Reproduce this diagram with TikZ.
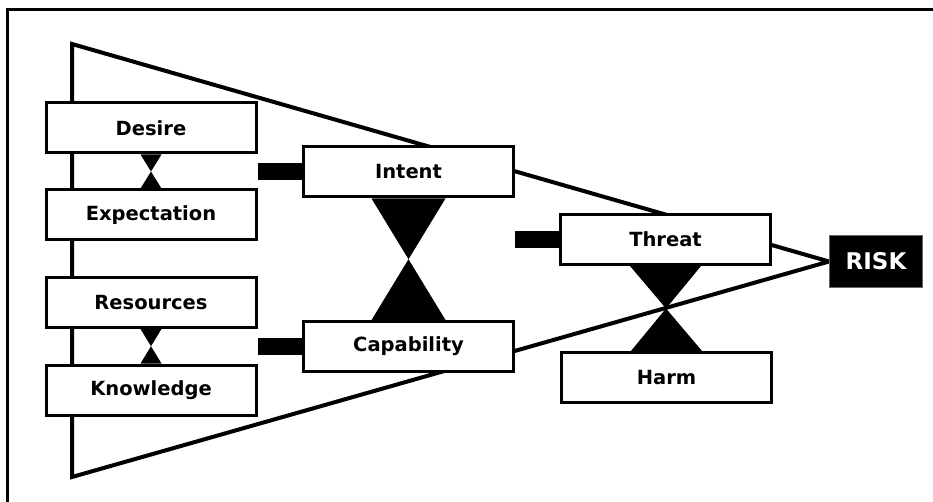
\documentclass[tikz,border=0pt]{standalone}
\usepackage{fontspec}
\setmainfont{DejaVu Sans}
\usetikzlibrary{backgrounds,calc}
\tikzset{
  box/.style={draw=black, fill=white, line width=3pt, minimum width=210pt, minimum height=50pt, inner sep=0pt, font=\fontsize{19.5}{21}\selectfont\bfseries},
  riskbox/.style={draw=black!60, fill=black, line width=1pt, minimum width=93pt, minimum height=52pt, inner sep=0pt, text=white, font=\fontsize{23}{25}\selectfont\bfseries},
  tri/.style={draw=black, line width=4pt, line join=miter},
  bar/.style={draw=black, line width=17pt},
  frame/.style={draw=black, line width=3pt},
}
\newcommand{\myhourglass}[3]{% top node, bottom node, half width
  \fill[black] ($(#1.south)+(-#3,0)$) -- ($(#1.south)+(#3,0)$) -- ($(#2.north)+(-#3,0)$) -- ($(#2.north)+(#3,0)$) -- cycle;}
\begin{document}
\begin{tikzpicture}[x=1pt,y=-1pt]
\useasboundingbox (0,0) rectangle (933,502);
\node[box] (desire) at (151,128) {Desire};
\node[box] (expect) at (151,215) {Expectation};
\node[box] (resources) at (151,302.5) {Resources};
\node[box] (knowledge) at (151,390) {Knowledge};
\node[box] (intent) at (408.5,172) {Intent};
\node[box] (capability) at (408.5,346.5) {Capability};
\node[box] (threat) at (665.5,239.5) {Threat};
\node[box] (harm) at (666.5,377.5) {Harm};
\node[riskbox] (risk) at (876,261.5) {RISK};
\coordinate (tl) at (72,44);
\coordinate (bl) at (72,477);
\begin{scope}[on background layer]
  \draw[frame] (7.5,10) rectangle (960,530);
  \draw[tri] (tl) -- (bl) -- (risk.west) -- cycle;
  \myhourglass{desire}{expect}{10.5}
  \myhourglass{resources}{knowledge}{10.5}
  \myhourglass{intent}{capability}{37}
  \myhourglass{threat}{harm}{35.5}
  \draw[bar] (desire.east |- intent.west) -- (intent.west);
  \draw[bar] (resources.east |- capability.west) -- (capability.west);
  \draw[bar] (intent.east |- threat.west) -- (threat.west);
\end{scope}
\end{tikzpicture}
\end{document}
